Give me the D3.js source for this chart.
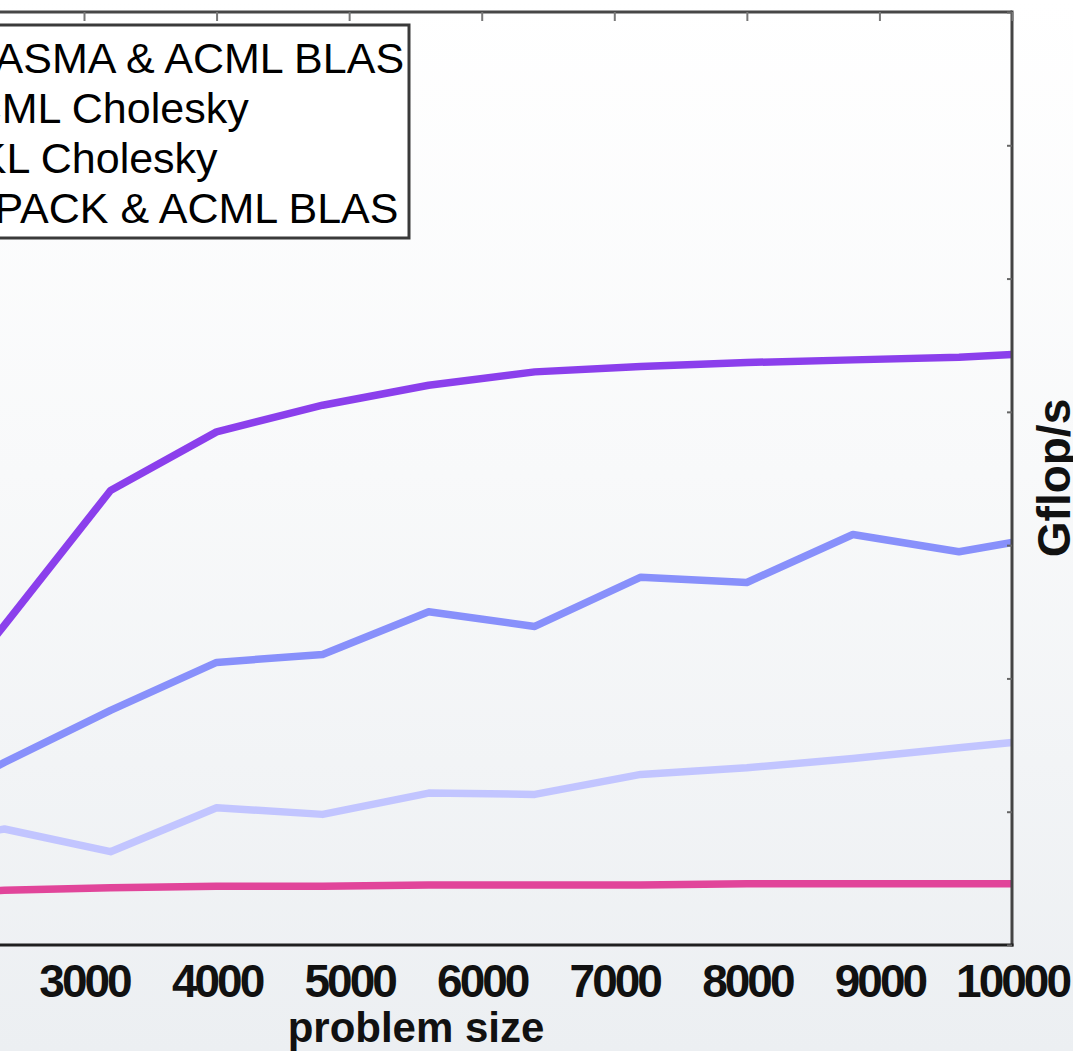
<!DOCTYPE html>
<html>
<head>
<meta charset="utf-8">
<script src="https://cdn.jsdelivr.net/npm/d3@7"></script>
<style>
  html, body { margin: 0; padding: 0; overflow: hidden; background: #eef0f3; }
  svg { display: block; }
</style>
</head>
<body>
<svg id="chart" width="1073" height="1051"></svg>
<script>
// Cholesky factorization performance versus matrix size
const problemSizes = [1600, 2400, 3200, 4000, 4800, 5600, 6400, 7200, 8000, 8800, 9600, 10000];
const plasmaAcmlBlas = [14.0, 24.0, 34.1, 38.5, 40.5, 42.0, 43.0, 43.4, 43.7, 43.9, 44.1, 44.3];
const acmlCholesky   = [9.5, 13.7, 17.6, 21.2, 21.8, 25.0, 23.9, 27.6, 27.2, 30.8, 29.5, 30.2];
const mklCholesky    = [7.5, 8.7, 7.0, 10.3, 9.8, 11.4, 11.3, 12.8, 13.3, 14.0, 14.8, 15.2];
const lapackAcmlBlas = [3.9, 4.1, 4.3, 4.4, 4.4, 4.5, 4.5, 4.5, 4.6, 4.6, 4.6, 4.6];

const seriesNames  = ["PLASMA & ACML BLAS", "ACML Cholesky", "MKL Cholesky", "LAPACK & ACML BLAS"];
const seriesColors = ["#8b3fec", "#8890fb", "#c2c5ff", "#e1459a"];
const seriesValues = [plasmaAcmlBlas, acmlCholesky, mklCholesky, lapackAcmlBlas];

const xTickValues = [3000, 4000, 5000, 6000, 7000, 8000, 9000, 10000];
const xTickLabels = ["3000", "4000", "5000", "6000", "7000", "8000", "9000", "10000"];
const yTickValues = [0, 10, 20, 30, 40, 50, 60, 70];

const xLabel = "problem size";
const yLabel = "Gflop/s";

const svg = d3.select("#chart");
const W = 1073, H = 1051;

// figure background: soft vertical fade
const defs = svg.append("defs");
const grad = defs.append("linearGradient")
  .attr("id", "bgFade").attr("x1", 0).attr("y1", 0).attr("x2", 0).attr("y2", 1);
grad.append("stop").attr("offset", "0%").attr("stop-color", "#ffffff");
grad.append("stop").attr("offset", "45%").attr("stop-color", "#f8f9fa");
grad.append("stop").attr("offset", "100%").attr("stop-color", "#eceff2");
svg.append("rect").attr("width", W).attr("height", H).attr("fill", "url(#bgFade)");

// plot box (left part extends past the page edge)
const plot = { left: -224, right: 1012, top: 12, bottom: 945 };

const x = d3.scaleLinear().domain([3000, 10000]).range([84, plot.right]);
const y = d3.scaleLinear().domain([0, 70]).range([plot.bottom, plot.top]);

const fontFamily = "'Liberation Sans', Arial, Helvetica, sans-serif";

// series lines
const line = d3.line()
  .x((d, i) => x(problemSizes[i]))
  .y(d => y(d));

svg.append("g").selectAll("path")
  .data(seriesValues)
  .join("path")
  .attr("d", d => line(d))
  .attr("fill", "none")
  .attr("stroke", (d, i) => seriesColors[i])
  .attr("stroke-width", 7.5)
  .attr("stroke-linejoin", "round")
  .attr("stroke-linecap", "butt");

// frame
svg.append("line")
  .attr("x1", plot.left).attr("x2", plot.right)
  .attr("y1", plot.top).attr("y2", plot.top)
  .attr("stroke", "#474747").attr("stroke-width", 3);
svg.append("line")
  .attr("x1", plot.right).attr("x2", plot.right)
  .attr("y1", plot.top - 1.5).attr("y2", plot.bottom + 1.5)
  .attr("stroke", "#444").attr("stroke-width", 3);

// bottom axis with labels
const xAxis = d3.axisBottom(x)
  .tickValues(xTickValues)
  .tickFormat((d, i) => xTickLabels[i])
  .tickSize(0)
  .tickPadding(19);
const gx = svg.append("g")
  .attr("transform", `translate(0,${plot.bottom})`)
  .call(xAxis);
gx.select(".domain").remove();
gx.append("line")
  .attr("x1", plot.left).attr("x2", plot.right + 1.5)
  .attr("stroke", "#1f1f1f").attr("stroke-width", 3);
gx.selectAll(".tick text")
  .attr("font-family", fontFamily)
  .attr("font-size", 46)
  .attr("font-weight", "bold")
  .attr("letter-spacing", "-3px")
  .attr("fill", "#111");

// top axis ticks pointing inward
const gTop = svg.append("g")
  .attr("transform", `translate(0,${plot.top})`)
  .call(d3.axisBottom(x).tickValues(xTickValues).tickSize(9).tickFormat(""));
gTop.select(".domain").remove();
gTop.selectAll(".tick line").attr("stroke", "#777").attr("stroke-width", 2);

// right axis ticks pointing inward
const gRight = svg.append("g")
  .attr("transform", `translate(${plot.right},0)`)
  .call(d3.axisLeft(y).tickValues(yTickValues).tickSize(5).tickFormat(""));
gRight.select(".domain").remove();
gRight.selectAll(".tick line").attr("stroke", "#666").attr("stroke-width", 2);

// axis titles
svg.append("text")
  .attr("x", 416).attr("y", 1042)
  .attr("text-anchor", "middle")
  .attr("font-family", fontFamily)
  .attr("font-size", 42)
  .attr("font-weight", "bold")
  .attr("fill", "#111")
  .text(xLabel);

svg.append("text")
  .attr("transform", `translate(1070,${478}) rotate(-90)`)
  .attr("text-anchor", "middle")
  .attr("font-family", fontFamily)
  .attr("font-size", 46)
  .attr("font-weight", "bold")
  .attr("fill", "#111")
  .text(yLabel);

// legend
const legend = { left: -150, right: 409, top: 25, bottom: 238, textX: -58, firstBaseline: 73, rowStep: 50 };
const gLeg = svg.append("g");
gLeg.append("rect")
  .attr("x", legend.left).attr("y", legend.top)
  .attr("width", legend.right - legend.left)
  .attr("height", legend.bottom - legend.top)
  .attr("fill", "#ffffff")
  .attr("stroke", "#3a3a3a").attr("stroke-width", 3);
const rows = gLeg.selectAll("g.row")
  .data(seriesNames)
  .join("g").attr("class", "row")
  .attr("transform", (d, i) => `translate(0,${legend.firstBaseline + i * legend.rowStep})`);
rows.append("line")
  .attr("x1", legend.left + 15).attr("x2", legend.textX - 12)
  .attr("y1", -14).attr("y2", -14)
  .attr("stroke", (d, i) => seriesColors[i])
  .attr("stroke-width", 7.5);
rows.append("text")
  .attr("x", legend.textX)
  .attr("font-family", fontFamily)
  .attr("font-size", 43)
  .attr("fill", "#000")
  .text(d => d);
</script>
</body>
</html>
